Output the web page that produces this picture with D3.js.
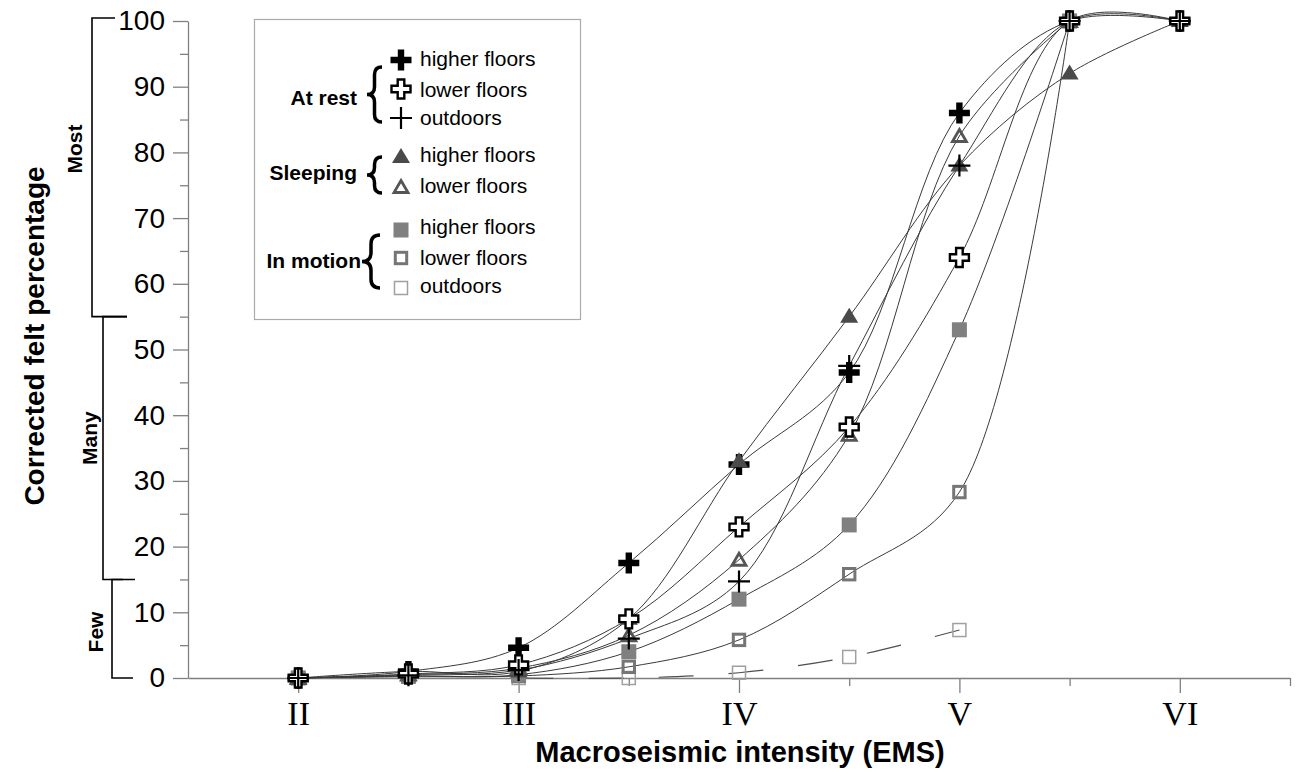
<!DOCTYPE html>
<html>
<head>
<meta charset="utf-8">
<script src="https://cdn.jsdelivr.net/npm/d3@7"></script>
<style>
  body { margin:0; background:#fff; }
  svg { display:block; font-family:"Liberation Sans", Arial, sans-serif; }
</style>
</head>
<body>
<script>
// --- data ---
const intensities = [2, 2.5, 3, 3.5, 4, 4.5, 5, 5.5, 6];
const romanLabels = ['II', 'III', 'IV', 'V', 'VI'];

// at rest
const restHigher  = [0, 1.0, 4.6, 17.5, 32.5, 46.5, 86, 100, 100];
const restLower   = [0, 0.6, 2.0, 9.0, 23.0, 38.2, 64, 100, 100];
const restOutdoor = [0, 0.4, 1.2, 6.0, 14.7, 47.5, 78, 100, 100];
// sleeping
const sleepHigher = [0, 1.0, 1.0, 9.0, 33.0, 55.0, 78, 92, 100];
const sleepLower  = [0, 0.5, 1.5, 6.5, 18.0, 37.0, 82.5, 100];
// in motion
const motionHigher  = [0, 0.3, 0.5, 4.0, 12.0, 23.3, 53.0, 100];
const motionLower   = [0, 0.2, 0.3, 1.7, 5.8, 15.8, 28.3, 100];
const motionOutdoorX = [3, 3.5, 4, 4.5, 5];
const motionOutdoor  = [0, 0, 0.8, 3.2, 7.3];

const feltClasses = ['Few', 'Many', 'Most'];
const classBounds = [[0, 15], [15, 55], [55, 100]];

// --- series (draw order: later on top) ---
const series = [
  { xs: motionOutdoorX, ys: motionOutdoor, mark: 'sqOpen', dash: '35,35' },
  { xs: intensities, ys: motionLower,  mark: 'sqBorder' },
  { xs: intensities, ys: motionHigher, mark: 'sqFilled' },
  { xs: intensities, ys: restHigher,   mark: 'plusBold' },
  { xs: intensities, ys: sleepHigher,  mark: 'triFilled' },
  { xs: intensities, ys: sleepLower,   mark: 'triOpen' },
  { xs: intensities, ys: restLower,    mark: 'plusOpen' },
  { xs: intensities, ys: restOutdoor,  mark: 'plusThin' }
];

const W = 1299, H = 776;
const svg = d3.select('body').append('svg').attr('width', W).attr('height', H);

const x = d3.scaleLinear().domain([1.5, 6.5]).range([188, 1290]);
const y = d3.scaleLinear().domain([0, 100]).range([678, 21]);

const AXIS = '#808080';

// --- axes ---
const yAx = svg.append('g').attr('transform', `translate(${x(1.5)},0)`)
  .call(d3.axisLeft(y).tickValues(d3.range(0, 101, 10)).tickSize(15).tickSizeOuter(0).tickPadding(8));
svg.append('g').attr('transform', `translate(${x(1.5)},0)`)
  .call(d3.axisLeft(y).tickValues(d3.range(5, 100, 10)).tickSize(8).tickFormat(''))
  .call(g => g.select('.domain').remove());

const xAx = svg.append('g').attr('transform', `translate(0,${y(0)})`)
  .call(d3.axisBottom(x).tickValues([2, 3, 4, 5, 6]).tickFormat((d, i) => romanLabels[i])
    .tickSize(15).tickSizeOuter(0).tickPadding(8));
svg.append('g').attr('transform', `translate(0,${y(0)})`)
  .call(d3.axisBottom(x).tickValues([2.5, 3.5, 4.5, 5.5, 6.5]).tickSize(8).tickFormat(''))
  .call(g => g.select('.domain').remove());

svg.selectAll('.domain, .tick line').attr('stroke', AXIS).attr('stroke-width', 1.3);
yAx.selectAll('text').attr('font-size', 28).attr('fill', '#000')
  .attr('font-family', '"Liberation Sans", Arial, sans-serif');
xAx.selectAll('text').attr('font-size', 34).attr('fill', '#000')
  .attr('font-family', '"Liberation Serif", "Times New Roman", serif');

// axis titles
svg.append('text').attr('x', 740).attr('y', 762).attr('text-anchor', 'middle')
  .attr('font-size', 29).attr('font-weight', 'bold').text('Macroseismic intensity (EMS)');
svg.append('text').attr('transform', 'translate(44,336) rotate(-90)').attr('text-anchor', 'middle')
  .attr('font-size', 28).attr('font-weight', 'bold').text('Corrected felt percentage');

// --- Few / Many / Most brackets ---
const brk = svg.append('g').attr('stroke', '#000').attr('stroke-width', 1.6).attr('fill', 'none');
const bx = [112, 103, 92];          // vertical line per class
const bTop = [135, 127, 115];       // end of upper tick
const bBot = [133, 123, 127];       // end of lower tick
classBounds.forEach(([lo, hi], i) => {
  const yt = i === 2 ? y(hi) - 3 : y(hi);
  brk.append('path').attr('d', `M${bTop[i]},${yt}H${bx[i]}V${y(lo)}H${bBot[i]}`);
});
const lblX = [103, 97, 82];
const lblV = [7, 36.5, 80.5];
feltClasses.forEach((t, i) => {
  svg.append('text').attr('transform', `translate(${lblX[i]},${y(lblV[i])}) rotate(-90)`)
    .attr('text-anchor', 'middle').attr('font-size', 21).attr('font-weight', 'bold').text(t);
});

// --- markers ---
function crossPath(L, a) {
  return `M${-a},${-L}H${a}V${-a}H${L}V${a}H${a}V${L}H${-a}V${a}H${-L}V${-a}H${-a}Z`;
}
function drawMark(g, type) {
  switch (type) {
    case 'plusBold':
      g.append('path').attr('d', crossPath(10.5, 3.2)).attr('fill', '#000'); break;
    case 'plusOpen':
      g.append('path').attr('d', crossPath(9.5, 3.3)).attr('fill', '#fff')
        .attr('stroke', '#000').attr('stroke-width', 2.4); break;
    case 'plusThin':
      g.append('path').attr('d', 'M-11,0H11M0,-11V11').attr('stroke', '#000').attr('stroke-width', 2.2); break;
    case 'triFilled':
      g.append('path').attr('d', 'M0,-9L9,6H-9Z').attr('fill', '#4a4a4a'); break;
    case 'triOpen':
      g.append('path').attr('d', 'M0,-6.5L7,5.5H-7Z').attr('fill', 'none')
        .attr('stroke', '#555').attr('stroke-width', 2.8).attr('stroke-linejoin', 'miter'); break;
    case 'sqFilled':
      g.append('rect').attr('x', -7.5).attr('y', -7.5).attr('width', 15).attr('height', 15).attr('fill', '#808080'); break;
    case 'sqBorder':
      g.append('rect').attr('x', -5.7).attr('y', -5.7).attr('width', 11.4).attr('height', 11.4)
        .attr('fill', 'none').attr('stroke', '#757575').attr('stroke-width', 3); break;
    case 'sqOpen':
      g.append('rect').attr('x', -6.5).attr('y', -6.5).attr('width', 13).attr('height', 13)
        .attr('fill', 'none').attr('stroke', '#a0a0a0').attr('stroke-width', 1.5); break;
  }
}

// --- curves (centripetal spline keeps the steep final jumps from wobbling) ---
const line = d3.line().x(d => x(d[0])).y(d => y(d[1])).curve(d3.curveCatmullRom.alpha(0.5));
const toPoints = s => s.ys.map((v, i) => [s.xs[i], v]);
const lineLayer = svg.append('g').attr('fill', 'none');
series.forEach(s => {
  lineLayer.append('path').datum(toPoints(s)).attr('d', line)
    .attr('stroke', s.dash ? '#505050' : '#3a3a3a')
    .attr('stroke-width', s.dash ? 1.2 : 1)
    .attr('stroke-dasharray', s.dash || null);
});
const markLayer = svg.append('g');
series.forEach(s => {
  markLayer.selectAll(null).data(toPoints(s)).join('g')
    .attr('transform', d => `translate(${x(d[0])},${y(d[1])})`)
    .each(function () { drawMark(d3.select(this), s.mark); });
});

// --- legend ---
const leg = svg.append('g');
leg.append('rect').attr('x', 254.5).attr('y', 19.5).attr('width', 326).attr('height', 300)
  .attr('fill', '#fff').attr('stroke', '#aaa').attr('stroke-width', 1.2);
const legItems = [
  { mark: 'plusBold',  text: 'higher floors', my: 60,  ty: 66 },
  { mark: 'plusOpen',  text: 'lower floors',  my: 89,  ty: 97 },
  { mark: 'plusThin',  text: 'outdoors',      my: 118, ty: 125 },
  { mark: 'triFilled', text: 'higher floors', my: 157, ty: 162 },
  { mark: 'triOpen',   text: 'lower floors',  my: 187, ty: 193 },
  { mark: 'sqFilled',  text: 'higher floors', my: 230, ty: 234 },
  { mark: 'sqBorder',  text: 'lower floors',  my: 258, ty: 265 },
  { mark: 'sqOpen',    text: 'outdoors',      my: 288, ty: 293 }
];
legItems.forEach(it => {
  const g = leg.append('g').attr('transform', `translate(401,${it.my})`);
  drawMark(g, it.mark);
  leg.append('text').attr('x', 420).attr('y', it.ty).attr('font-size', 21).text(it.text);
});
const groups = [
  { text: 'At rest',   ty: 105, x1: 382, y0: 67,  y1: 122, w: 15 },
  { text: 'Sleeping',  ty: 180, x1: 382, y0: 157, y1: 193, w: 15 },
  { text: 'In motion', ty: 268, x1: 380, y0: 235, y1: 288, w: 18 }
];
groups.forEach(gr => {
  leg.append('text').attr('x', gr.text === 'In motion' ? 361 : 357).attr('y', gr.ty)
    .attr('text-anchor', 'end').attr('font-size', 21).attr('font-weight', 'bold').text(gr.text);
  const xm = gr.x1 - gr.w / 2, xt = gr.x1 - gr.w, ym = (gr.y0 + gr.y1) / 2, r = gr.w / 2;
  leg.append('path')
    .attr('d', `M${gr.x1},${gr.y0}Q${xm},${gr.y0} ${xm},${gr.y0 + r}L${xm},${ym - r}Q${xm},${ym} ${xt},${ym}` +
               `Q${xm},${ym} ${xm},${ym + r}L${xm},${gr.y1 - r}Q${xm},${gr.y1} ${gr.x1},${gr.y1}`)
    .attr('fill', 'none').attr('stroke', '#000').attr('stroke-width', 3.5);
});
</script>
</body>
</html>
